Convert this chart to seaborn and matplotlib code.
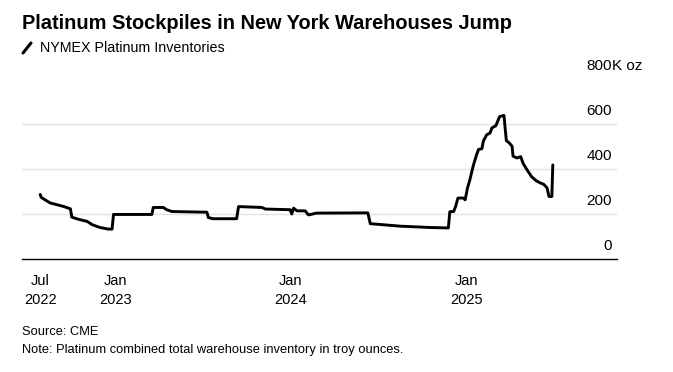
import pandas as pd
import matplotlib
matplotlib.use("Agg")
import matplotlib.pyplot as plt
import seaborn as sns
from matplotlib.lines import Line2D

# NYMEX platinum inventories, thousand troy ounces
dates = [
    "2022-07-27", "2022-07-29", "2022-08-06", "2022-08-17", "2022-09-13", "2022-09-28",
    "2022-10-01", "2022-10-14", "2022-11-02", "2022-11-13", "2022-11-29", "2022-12-16",
    "2022-12-24", "2022-12-27", "2023-03-17", "2023-03-20", "2023-04-10", "2023-04-17",
    "2023-04-28", "2023-07-10", "2023-07-13", "2023-07-23", "2023-09-10", "2023-09-14",
    "2023-11-02", "2023-11-09", "2023-12-31", "2024-01-03", "2024-01-07", "2024-01-14",
    "2024-01-31", "2024-02-07", "2024-02-24", "2024-06-10", "2024-06-15", "2024-08-16",
    "2024-10-18", "2024-11-25", "2024-11-28", "2024-12-06", "2024-12-10", "2024-12-15",
    "2024-12-26", "2024-12-30", "2025-01-04", "2025-01-09", "2025-01-16", "2025-01-23",
    "2025-01-27", "2025-02-03", "2025-02-06", "2025-02-13", "2025-02-20", "2025-02-24",
    "2025-03-04", "2025-03-12", "2025-03-21", "2025-03-26", "2025-04-01", "2025-04-07",
    "2025-04-09", "2025-04-17", "2025-04-25", "2025-04-30", "2025-05-08", "2025-05-18",
    "2025-05-28", "2025-06-05", "2025-06-12", "2025-06-19", "2025-06-23", "2025-06-29",
    "2025-07-01",
]
stocks = [
    287, 274, 263, 249, 234, 223,
    186, 177, 167, 152, 140, 133,
    133, 198, 198, 229, 229, 219,
    211, 208, 184, 179, 179, 233,
    229, 222, 219, 200, 226, 214,
    214, 196, 204, 205, 157, 146,
    140, 138, 210, 211, 233, 271,
    271, 263, 316, 353, 415, 464,
    487, 490, 524, 552, 560, 583,
    592, 633, 638, 526, 516, 501,
    457, 449, 455, 425, 397, 365,
    347, 338, 332, 316, 278, 278,
    418,
]

tick_dates = ["2022-07-27", "2023-01-01", "2024-01-01", "2025-01-01"]
tick_labels = ["Jul\n2022", "Jan\n2023", "Jan\n2024", "Jan\n2025"]
grid_levels = [200, 400, 600]
y_levels = [0, 200, 400, 600, 800]
y_labels = ["0", "200", "400", "600", "800"]

sns.set_style("white")
plt.rcParams['font.family'] = ['Liberation Sans', 'DejaVu Sans']
plt.rcParams['text.color'] = 'black'
plt.rcParams['xtick.color'] = 'black'

df = pd.DataFrame({"date": pd.to_datetime(dates), "stock": stocks})

W, H = 673, 372
fig = plt.figure(figsize=(W / 100, H / 100), dpi=100)
ax = fig.add_axes([22 / W, 1 - 259 / H, (617 - 22) / W, (259 - 79) / H])

for v in grid_levels:
    ax.axhline(v, color="#e2e2e2", lw=1, zorder=0)

sns.lineplot(data=df, x="date", y="stock", color="black", linewidth=2.1, ax=ax)

ax.set_xlim(pd.Timestamp("2022-06-19"), pd.Timestamp("2025-11-12"))
ax.set_ylim(0, 800)
ax.set_xlabel("")
ax.set_ylabel("")
for s in ["left", "right", "top"]:
    ax.spines[s].set_visible(False)
ax.spines["bottom"].set_color("black")
ax.spines["bottom"].set_linewidth(1)

ax.set_xticks(pd.to_datetime(tick_dates))
ax.set_xticklabels(tick_labels, fontsize=10.5, linespacing=1.45, color="black")
ax.tick_params(axis="x", direction="out", length=4, width=1, color="black", pad=7)
ax.set_yticks([])

# value labels sit above the gridlines on the right
ytf = ax.get_yaxis_transform()
xr = (612 - 22) / (617 - 22)
for v, lab in zip(y_levels, y_labels):
    ax.annotate(lab, xy=(xr, v), xycoords=ytf, xytext=(0, 6.5),
                textcoords="offset points", ha="right", va="baseline", fontsize=11)
ax.annotate("K oz", xy=(xr, 800), xycoords=ytf, xytext=(0, 6.5),
            textcoords="offset points", ha="left", va="baseline", fontsize=11)

fig.text(22 / W, 1 - 29 / H, "Platinum Stockpiles in New York Warehouses Jump",
         fontsize=14.4, fontweight="bold", ha="left", va="baseline")
fig.add_artist(Line2D([23 / W, 31 / W], [1 - 53 / H, 1 - 43 / H], color="black", lw=2.2))
fig.text(40 / W, 1 - 52 / H, "NYMEX Platinum Inventories", fontsize=10.3,
         ha="left", va="baseline")
fig.text(22 / W, 1 - 335 / H, "Source: CME", fontsize=9.3, ha="left", va="baseline")
fig.text(22 / W, 1 - 353 / H, "Note: Platinum combined total warehouse inventory in troy ounces.",
         fontsize=9.3, ha="left", va="baseline")

fig.savefig("out.png", dpi=100)
